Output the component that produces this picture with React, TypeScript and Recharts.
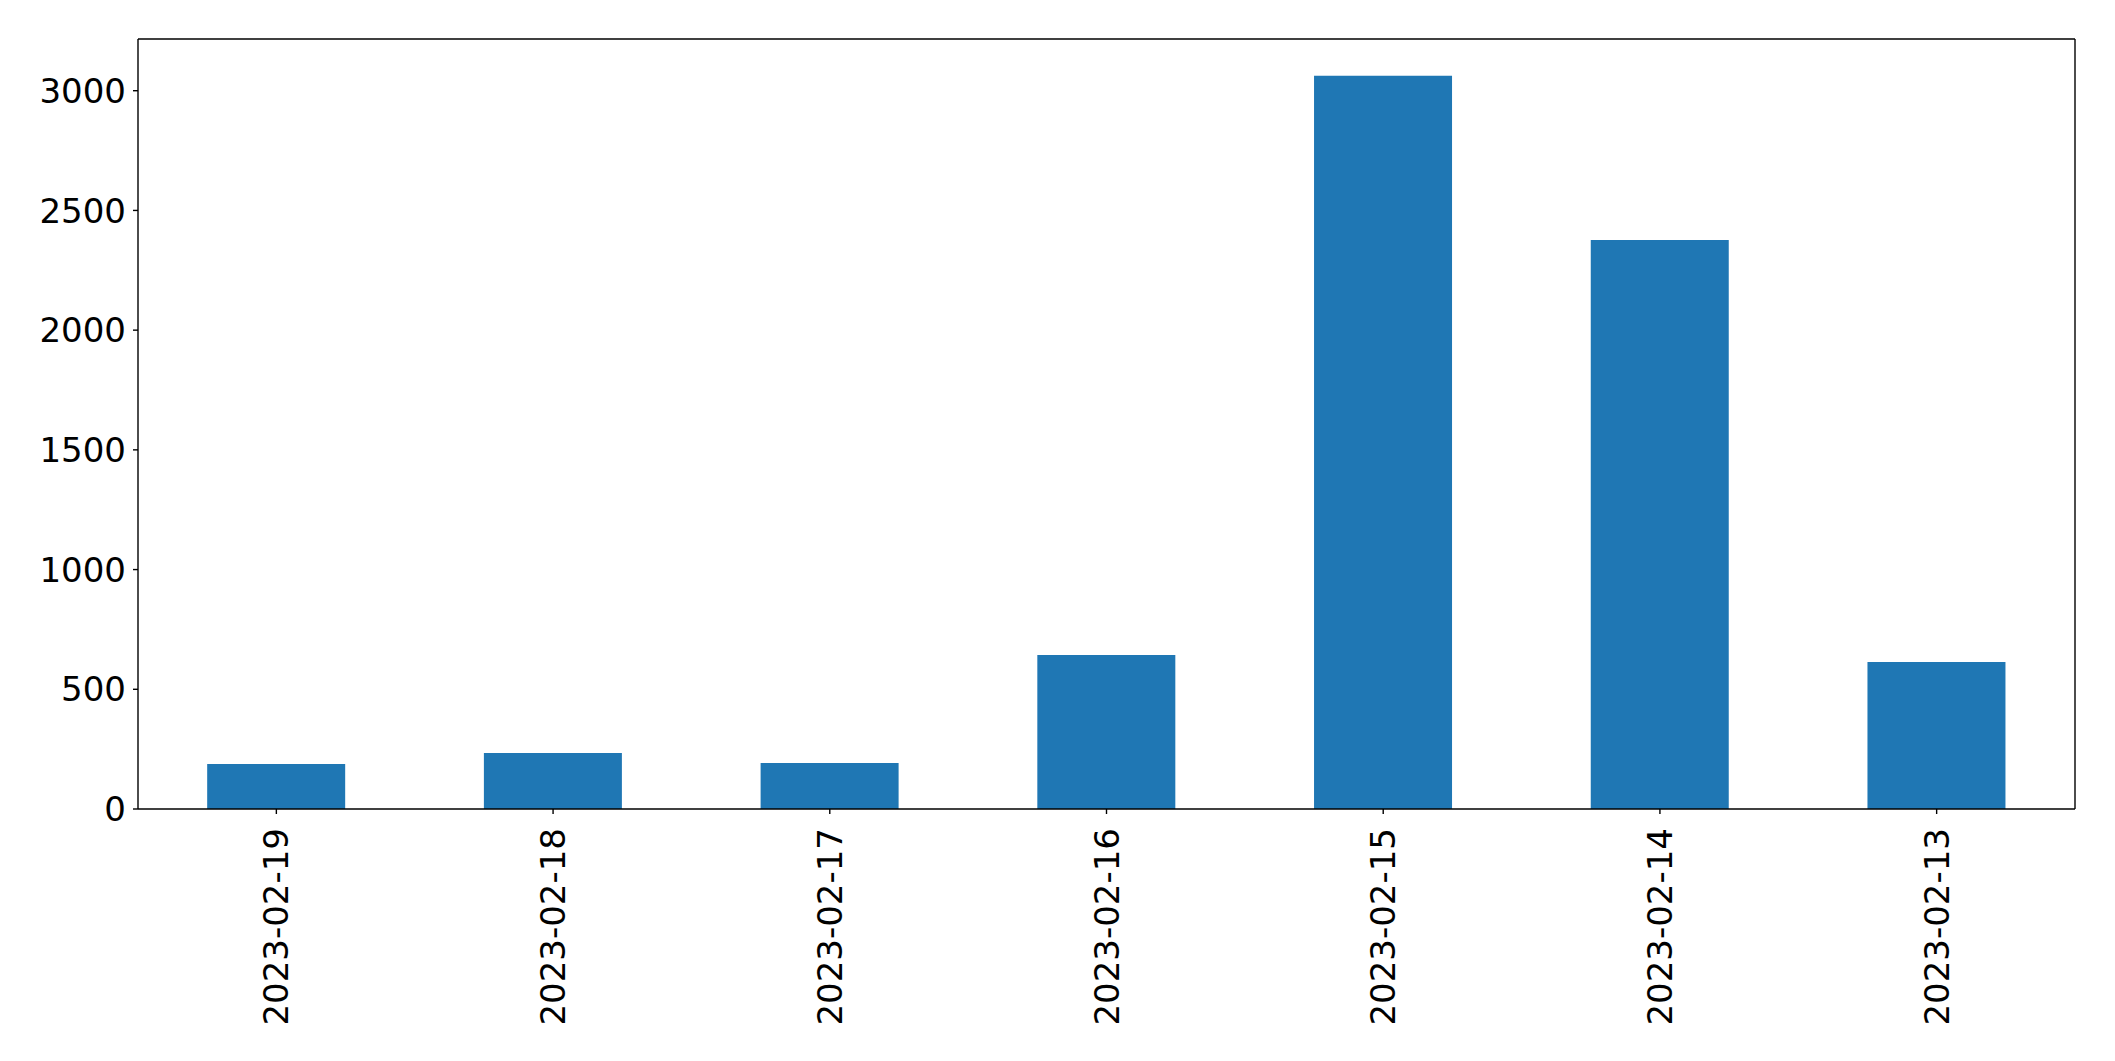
import React from 'react'
import { BarChart, Bar, XAxis, YAxis } from 'recharts'

// daily counts, newest first
const dates = [
  '2023-02-19',
  '2023-02-18',
  '2023-02-17',
  '2023-02-16',
  '2023-02-15',
  '2023-02-14',
  '2023-02-13',
]
const counts = [188, 234, 192, 643, 3063, 2377, 614]
const yTicks = [0, 500, 1000, 1500, 2000, 2500, 3000]

const data = dates.map((date, i) => ({ date, count: counts[i] }))

const FONT = 'DejaVu Sans, sans-serif'
const frameLine = { stroke: '#000', strokeWidth: 1.4 }

const DateTick = (props: any) => {
  const { x, y, payload } = props
  return (
    <text
      x={0}
      y={0}
      transform={`translate(${x},${y + 12}) rotate(-90)`}
      textAnchor="end"
      dominantBaseline="central"
      fontSize={34}
      fontFamily={FONT}
      fill="#000"
    >
      {payload.value}
    </text>
  )
}

export default function App() {
  return (
    <div style={{ position: 'absolute', left: 0, top: 0, background: '#fff' }}>
      <BarChart
        width={2115}
        height={1061}
        data={data}
        margin={{ top: 38, right: 39, bottom: 0, left: 0 }}
        barCategoryGap="25%"
      >
        <XAxis
          dataKey="date"
          height={252}
          axisLine={frameLine}
          tickLine={frameLine}
          tickSize={5}
          tick={<DateTick />}
          interval={0}
        />
        <XAxis
          xAxisId="top"
          dataKey="date"
          orientation="top"
          height={1}
          tick={false}
          tickLine={false}
          axisLine={frameLine}
        />
        <YAxis
          width={138}
          domain={[0, 3216]}
          ticks={yTicks}
          axisLine={frameLine}
          tickLine={frameLine}
          tickSize={5}
          tickMargin={7}
          tick={{ fontSize: 34, fontFamily: FONT, fill: '#000' }}
          interval={0}
        />
        <YAxis
          yAxisId="right"
          orientation="right"
          width={1}
          domain={[0, 3216]}
          tick={false}
          tickLine={false}
          axisLine={frameLine}
        />
        <Bar dataKey="count" fill="#1f77b4" isAnimationActive={false} />
        {/* invisible series so the top/right frame axes get drawn */}
        <Bar
          dataKey="count"
          xAxisId="top"
          yAxisId="right"
          fill="none"
          fillOpacity={0}
          isAnimationActive={false}
        />
      </BarChart>
    </div>
  )
}
